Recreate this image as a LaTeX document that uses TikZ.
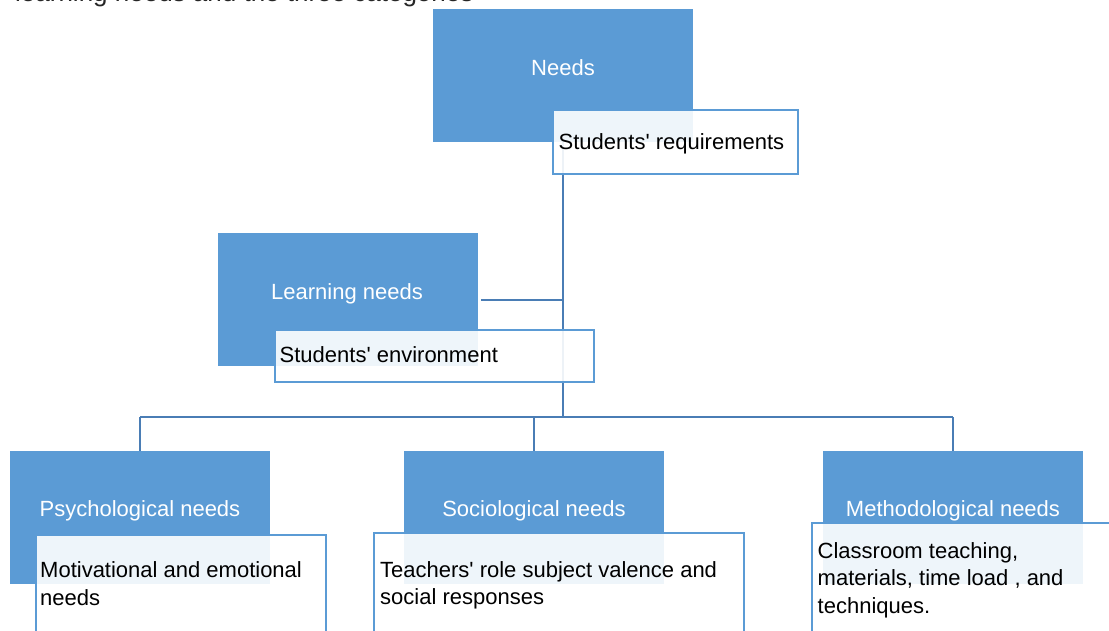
\documentclass[tikz,border=0pt]{standalone}
\usepackage{fontspec}
\setmainfont{Liberation Sans}[Ligatures=TeXOff]
\definecolor{boxblue}{HTML}{5B9BD5}
\definecolor{linkblue}{HTML}{4A7DB5}
\begin{document}
\begin{tikzpicture}[x=1pt,y=-1pt,
  bluebox/.style={fill=boxblue, draw=none, minimum width=260pt, minimum height=133pt, anchor=north west, inner sep=0pt},
  whitebox/.style={draw=boxblue, line width=2pt, fill=white, fill opacity=0.9, text opacity=1, anchor=north west, inner sep=0pt},
  bluetext/.style={text=white, anchor=base, font=\fontsize{22}{27.5}\selectfont, inner sep=0pt},
  bodytext/.style={text=black, anchor=base west, font=\fontsize{22}{27.5}\selectfont, inner sep=0pt, align=left},
  link/.style={draw=linkblue, line width=2.2pt}]
\useasboundingbox (0,0) rectangle (1109,630);
\clip (0,0) rectangle (1109,630);
% clipped line of text above the diagram
\node[anchor=base west, inner sep=0pt, font=\fontsize{26}{30}\selectfont, text=black!85] (cut) at (15,1.2) {learning needs and the three categories};
% blue boxes (shapes only)
\node[bluebox] (needs) at (433,9) {};
\node[bluebox] (learn) at (218,233) {};
\node[bluebox] (psy) at (10,451) {};
\node[bluebox] (soc) at (404,451) {};
\node[bluebox] (meth) at (823,451) {};
\coordinate (bus) at (563,417);
% connectors
\draw[link] ([yshift=8pt]needs.south) -- (needs.south |- bus);
\draw[link] ([xshift=3pt]learn.east) -- (needs.south |- learn.east);
\draw[link] (psy.north |- bus) -- (meth.north |- bus);
\draw[link] (psy.north |- bus) -- (psy.north);
\draw[link] (soc.north |- bus) -- (soc.north);
\draw[link] (meth.north |- bus) -- (meth.north);
% white boxes
\node[whitebox, minimum width=245pt, minimum height=64pt] (req) at (552,109) {};
\node[whitebox, minimum width=319pt, minimum height=52.5pt] (env) at (273.5,328.5) {};
\node[whitebox, minimum width=290pt, minimum height=130pt] (mot) at (35,534) {};
\node[whitebox, minimum width=370pt, minimum height=130pt] (tea) at (373,532) {};
\node[whitebox, minimum width=330pt, minimum height=140pt] (cla) at (811,522) {};
% texts
\node[bluetext] (tneeds) at (563,75) {Needs};
\node[bluetext] (tlearn) at (347,299) {Learning needs};
\node[bluetext] (tpsy) at (140,516.5) {Psychological needs};
\node[bluetext] (tsoc) at (534,516.5) {Sociological needs};
\node[bluetext] (tmeth) at (953,516.5) {Methodological needs};
\node[bodytext] (treq) at (558.5,149.5) {Students' requirements};
\node[bodytext] (tenv) at (279.5,362.5) {Students' environment};
\node[bodytext] (tmot) at (40,605) {Motivational and emotional\\needs};
\node[bodytext] (ttea) at (380,604.5) {Teachers' role subject valence and\\social responses};
\node[bodytext] (tcla) at (817.5,613.3) {Classroom teaching,\\materials, time load , and\\techniques.};
\end{tikzpicture}
\end{document}
